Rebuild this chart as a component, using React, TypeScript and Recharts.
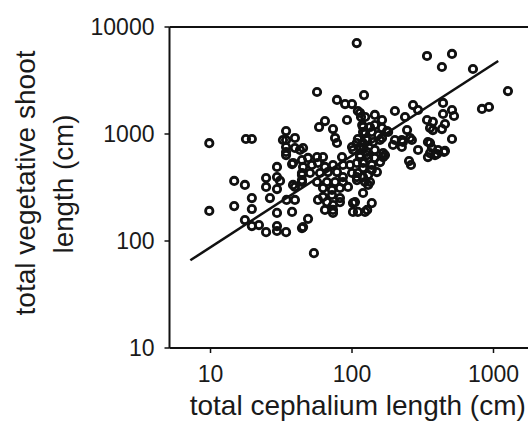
import React from 'react';
import { ScatterChart, Scatter, XAxis, YAxis, ReferenceLine } from 'recharts';

// total cephalium length (cm)
const cephaliumLength = [
  9.8, 9.8, 17.8, 19.6, 14.7, 17.5, 24.7, 24.7, 29.5, 31, 29.5, 19.6, 26.3, 14.7, 19.6, 29.5, 37.7, 17.5, 19.6, 22,
  24.7, 29.5, 29.5, 34.2, 34.2, 32.5, 34.2, 39.5, 34.2, 34.2, 34.2, 42.9, 29.5, 37.7, 39.5, 34.5, 39.5, 44.3, 44.3, 44.3,
  48.9, 53.8, 56.6, 121.6, 78.3, 89.3, 100, 110, 115.8, 64.4, 92.2, 58.5, 73.4, 119.7, 119.7, 75.9, 78.3, 110, 125.6, 100,
  114, 45.1, 201, 270, 293, 237, 339, 356, 114, 124, 145, 163, 118, 134, 145, 163, 180, 124, 138, 153,
  163, 128, 141, 245, 201, 225, 257, 225, 344, 367, 108, 339, 509, 432, 716, 1265, 829, 929, 440, 440,
  509, 526, 373, 454, 373, 432, 177, 195, 509, 293, 356, 344, 399, 447, 253, 261, 405, 454, 386, 108,
  120, 102, 114, 128, 39.5, 38.3, 44.3, 48.9, 56.6, 62.4, 45.1, 52, 57.5, 64.4, 73.4, 85, 86.3, 96.8, 108.4, 119.7,
  44.3, 50.5, 59.4, 67.6, 78.3, 86.3, 100, 110, 38.3, 44.3, 56.6, 66.5, 75.9, 86.3, 108.4, 123.6, 62.4, 72.2, 82.2, 93.7,
  62.4, 72.2, 82.2, 57.5, 66.5, 82.2, 73.4, 105, 119.7, 110, 101.6, 64.4, 73.4, 45.1, 119.7, 157.7, 229, 265, 356, 128,
  145, 166, 114, 130, 145, 166, 138, 158, 171, 119.7, 138, 150, 119.7, 134, 130, 138, 128, 101.6, 123.6, 108,
  130, 73.4,
];

// total vegetative shoot length (cm)
const vegetativeShootLength = [
  820, 191, 898, 898, 364, 334, 388, 320, 396, 364, 306, 252, 252, 212, 199, 183, 187, 157, 138, 141,
  121, 138, 124, 121, 1066, 879, 879, 918, 756, 679, 636, 709, 492, 524, 320, 242, 242, 414, 356, 132,
  161, 77, 2470, 2310, 2080, 1905, 1905, 1641, 1442, 1322, 1352, 1162, 1113, 1162, 1044, 918, 824, 898, 898, 756,
  756, 740, 1641, 1865, 1676, 1442, 1352, 1138, 1572, 1442, 1506, 1352, 1213, 1162, 1213, 1138, 1044, 1021, 1044, 979,
  918, 879, 842, 1089, 879, 879, 918, 756, 842, 740, 7080, 5360, 5600, 4230, 4050, 2520, 1714, 1788, 1950, 1538,
  1676, 1473, 1300, 1240, 1089, 1113, 1066, 789, 898, 709, 824, 609, 650, 679, 559, 513, 709, 694, 636, 824,
  740, 709, 636, 636, 740, 536, 571, 597, 609, 609, 492, 513, 536, 492, 513, 609, 513, 513, 536, 536,
  432, 432, 432, 441, 441, 396, 432, 432, 334, 371, 356, 356, 356, 356, 371, 356, 313, 300, 313, 320,
  258, 269, 252, 242, 231, 231, 217, 231, 281, 187, 187, 195, 195, 135, 824, 879, 842, 879, 664, 679,
  709, 664, 609, 597, 597, 609, 513, 547, 636, 481, 461, 441, 396, 356, 334, 226, 195, 226, 187, 396,
  414, 183,
];

// regression line end points
const fitX = [7.2, 1080];
const fitY = [66, 4810];

const xTicks = [10, 100, 1000];
const yTicks = [10, 100, 1000, 10000];

const points = cephaliumLength.map((x, i) => ({ x, y: vegetativeShootLength[i] }));
const fitLine = fitX.map((x, i) => ({ x, y: fitY[i] }));

const FONT = '"Liberation Sans", Arial, Helvetica, sans-serif';
const INK = '#1a1a1a';

const Ring = (props: any) => {
  const { cx, cy } = props;
  if (cx == null || cy == null) return null;
  return <circle cx={cx} cy={cy} r={3.7} fill="none" stroke="#111" strokeWidth={2.8} />;
};

const NoDot = () => null;

const XTitle = (props: any) => {
  const vb = props.viewBox || { x: 169.5, width: 376.5 };
  return (
    <text x={vb.x + vb.width / 2} y={415} textAnchor="middle" fontSize={28} fill={INK} fontFamily={FONT}>
      total cephalium length (cm)
    </text>
  );
};

const YTitle = () => (
  <g>
    <text
      transform="translate(35, 183) rotate(-90)"
      textAnchor="middle"
      fontSize={28}
      fill={INK}
      fontFamily={FONT}
      textLength={265}
      lengthAdjust="spacingAndGlyphs"
    >
      total vegetative shoot
    </text>
    <text
      transform="translate(73, 184) rotate(-90)"
      textAnchor="middle"
      fontSize={28}
      fill={INK}
      fontFamily={FONT}
      textLength={139}
      lengthAdjust="spacingAndGlyphs"
    >
      length (cm)
    </text>
  </g>
);

export default function App() {
  return (
    <div style={{ position: 'absolute', left: 0, top: 0, width: 528, height: 421, overflow: 'hidden', background: '#fff' }}>
      <ScatterChart width={546} height={421} margin={{ top: 27, right: 0, bottom: 0, left: 79.5 }}>
        <XAxis
          type="number"
          dataKey="x"
          scale="log"
          domain={[5.13, 2350]}
          ticks={xTicks}
          allowDataOverflow
          height={73}
          axisLine={{ stroke: '#111', strokeWidth: 2 }}
          tickLine={{ stroke: '#111', strokeWidth: 1.5 }}
          tickSize={5}
          tickMargin={13}
          tick={{ fontSize: 23, fill: INK, fontFamily: FONT }}
          tickFormatter={(v: number) => String(v)}
          label={{ content: XTitle }}
        />
        <YAxis
          type="number"
          dataKey="y"
          scale="log"
          domain={[10, 10000]}
          ticks={yTicks}
          allowDataOverflow
          width={90}
          axisLine={{ stroke: '#111', strokeWidth: 2 }}
          tickLine={{ stroke: '#111', strokeWidth: 1.5 }}
          tickSize={5}
          tickMargin={10}
          tick={{ fontSize: 23, fill: INK, fontFamily: FONT }}
          tickFormatter={(v: number) => String(v)}
          label={{ content: YTitle }}
        />
        <ReferenceLine y={10000} stroke="#111" strokeWidth={2} />
        <Scatter data={points} shape={Ring} isAnimationActive={false} />
        <Scatter
          data={fitLine}
          shape={NoDot}
          line={{ stroke: '#111', strokeWidth: 2.5 }}
          isAnimationActive={false}
        />
      </ScatterChart>
    </div>
  );
}
